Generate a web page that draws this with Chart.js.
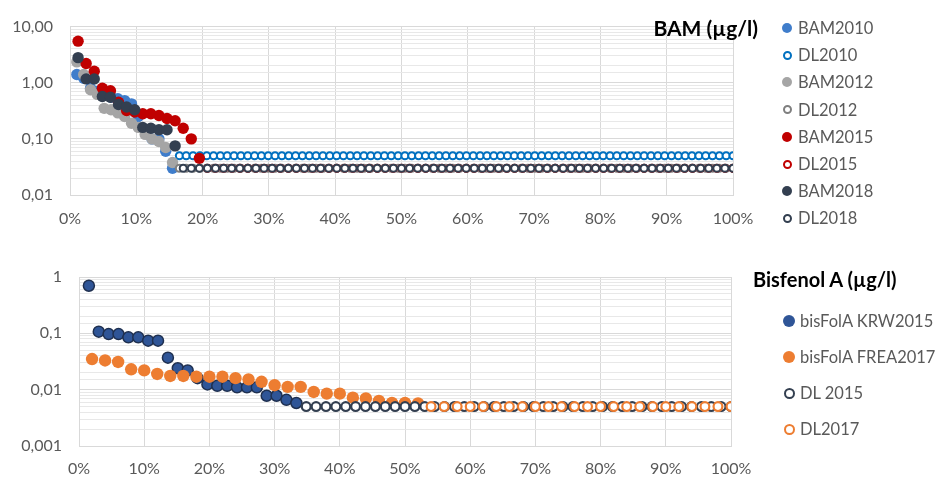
<!DOCTYPE html>
<html>
<head>
<meta charset="utf-8">
<script src="https://cdn.jsdelivr.net/npm/chart.js@4.4.1/dist/chart.umd.min.js"></script>
<style>
  html, body { margin: 0; padding: 0; background: #fff; }
  body { width: 941px; height: 477px; position: relative; overflow: hidden; font-family: Lato, "Open Sans", sans-serif; }
  .box { position: absolute; left: 0; }
  .title { position: absolute; font-weight: bold; font-size: 21px; line-height: 24px; color: #000; white-space: nowrap; }
  .legend { position: absolute; left: 0; top: 0; }
  .item { position: absolute; color: #595959; font-size: 16.5px; line-height: 20px; white-space: nowrap; }
  .dot { position: absolute; border-radius: 50%; box-sizing: border-box; }
</style>
</head>
<body>
<div class="box" style="top:0"><canvas id="bam" width="941" height="238"></canvas></div>
<div class="box" style="top:238px"><canvas id="bpa" width="941" height="239"></canvas></div>
<div class="title" style="right:183px;top:16px">BAM (µg/l)</div>
<div class="title" style="left:753px;top:267px;font-size:20px">Bisfenol A (µg/l)</div>
<div id="legendBam" class="legend"></div>
<div id="legendBpa" class="legend"></div>
<script>
// BAM (µg/l): measured values, sorted high to low; rest of samples are below detection limit
const bam2010 = [1.4, 1.2, 0.8, 0.7, 0.6, 0.55, 0.52, 0.48, 0.42, 0.25, 0.14, 0.1, 0.1, 0.06, 0.03];
const bam2012 = [2.35, 1.4, 0.75, 0.62, 0.35, 0.33, 0.29, 0.25, 0.19, 0.16, 0.12, 0.1, 0.09, 0.07, 0.038];
const bam2015 = [5.5, 2.2, 1.6, 0.8, 0.72, 0.45, 0.32, 0.3, 0.28, 0.28, 0.26, 0.23, 0.21, 0.155, 0.1, 0.045];
const bam2018 = [2.8, 1.17, 1.17, 0.57, 0.55, 0.41, 0.37, 0.33, 0.16, 0.155, 0.145, 0.145, 0.075];
const bamSamples = { 2010: 97, 2012: 97, 2015: 82, 2018: 82 };
const bamDL = { 2010: 0.05, 2012: 0.03, 2015: 0.03, 2018: 0.03 };

// Bisfenol A (µg/l)
const krw2015 = [0.70, 0.107, 0.097, 0.097, 0.085, 0.085, 0.074, 0.074, 0.037, 0.024, 0.022, 0.016,
  0.0124, 0.0117, 0.0117, 0.011, 0.011, 0.011, 0.0078, 0.0078, 0.0066, 0.0058];
const frea2017 = [0.035, 0.033, 0.031, 0.023, 0.022, 0.019, 0.0175, 0.0175, 0.017, 0.017, 0.017, 0.016,
  0.0152, 0.0138, 0.012, 0.0112, 0.0112, 0.0091, 0.0085, 0.0085, 0.0072, 0.0070, 0.0063, 0.0058, 0.0058, 0.0057];
const bpaSamples = { 2015: 66, 2017: 50 };
const bpaDL = { 2015: 0.005, 2017: 0.005 };

const bamTicks = ['0,01', '0,10', '1,00', '10,00'];
const bpaTicks = ['0,001', '0,01', '0,1', '1'];

const FONT = 'Lato, "Open Sans", sans-serif';
const TEXT = '#595959';

// x = cumulative fraction of samples (rank / n)
function measured(values, n) {
  return values.map((v, i) => ({ x: (i + 1) / n, y: v }));
}
function belowDL(nMeasured, n, dl) {
  const pts = [];
  for (let k = nMeasured + 1; k <= n; k++) pts.push({ x: k / n, y: dl });
  return pts;
}

function filled(label, data, color, r, order, border) {
  return {
    label, data, order,
    backgroundColor: color,
    borderColor: border || color,
    borderWidth: border ? 1.5 : 0,
    pointRadius: r,
    legend: { fill: color, stroke: border || color, open: false }
  };
}
function open(label, data, color, r, bw, order) {
  return {
    label, data, order,
    backgroundColor: '#fff',
    borderColor: color,
    borderWidth: bw,
    pointRadius: r,
    legend: { fill: '#fff', stroke: color, open: true }
  };
}

function isMajor(v) {
  const l = Math.log10(v);
  return Math.abs(l - Math.round(l)) < 1e-6;
}

function makeChart(id, datasets, cfg) {
  return new Chart(document.getElementById(id), {
    type: 'scatter',
    data: { datasets },
    options: {
      responsive: false,
      animation: false,
      events: [],
      layout: { padding: { left: 0, right: cfg.right, top: cfg.top, bottom: 0 } },
      plugins: { legend: { display: false }, tooltip: { enabled: false } },
      scales: {
        x: {
          type: 'linear', min: 0, max: 1,
          afterFit: s => { s.height = cfg.xHeight; },
          grid: { color: '#d9d9d9', drawTicks: false },
          border: { color: '#d9d9d9' },
          ticks: {
            stepSize: 0.1, padding: cfg.xPad, color: TEXT, maxRotation: 0, autoSkip: false,
            font: { family: FONT, size: 16 },
            callback: v => Math.round(v * 100) + '%'
          }
        },
        y: {
          type: 'logarithmic', min: cfg.min, max: cfg.max,
          afterFit: s => { s.width = cfg.yWidth; },
          grid: {
            drawTicks: false,
            color: ctx => (ctx.tick && isMajor(ctx.tick.value)) ? '#d9d9d9' : '#e8e8e8'
          },
          border: { color: '#d9d9d9' },
          ticks: {
            autoSkip: false, padding: 17, color: TEXT,
            font: { family: FONT, size: 16 },
            callback: v => {
              if (!isMajor(v)) return '';
              return cfg.labels[Math.round(Math.log10(v / cfg.min))];
            }
          }
        }
      }
    }
  });
}

function drawLegend(id, datasets, x, y0, step, r) {
  const el = document.getElementById(id);
  datasets.forEach((d, i) => {
    const cy = y0 + i * step;
    const dot = document.createElement('div');
    dot.className = 'dot';
    const rr = d.legend.open ? r - 0.5 : r;
    dot.style.cssText = `left:${x - rr}px;top:${cy - rr}px;width:${2 * rr}px;height:${2 * rr}px;` +
      `background:${d.legend.fill};border:${d.legend.open ? 2 : 0}px solid ${d.legend.stroke};`;
    el.appendChild(dot);
    const t = document.createElement('div');
    t.className = 'item';
    t.style.left = (x + 11) + 'px';
    t.style.top = (cy - 10) + 'px';
    t.textContent = d.label;
    el.appendChild(t);
  });
}

// later series on top (lower order = drawn last)
const bamSets = [
  filled('BAM2010', measured(bam2010, bamSamples[2010]), '#3f7dcb', 5.7, 8),
  open('DL2010', belowDL(bam2010.length, bamSamples[2010], bamDL[2010]), '#0070c0', 3.5, 2, 7),
  filled('BAM2012', measured(bam2012, bamSamples[2012]), '#a5a5a5', 5.7, 6),
  open('DL2012', belowDL(bam2012.length, bamSamples[2012], bamDL[2012]), '#7f7f7f', 3.5, 2, 5),
  filled('BAM2015', measured(bam2015, bamSamples[2015]), '#c00000', 5.7, 4),
  open('DL2015', belowDL(bam2015.length, bamSamples[2015], bamDL[2015]), '#c00000', 3.5, 2, 3),
  filled('BAM2018', measured(bam2018, bamSamples[2018]), '#333f50', 5.7, 2),
  open('DL2018', belowDL(bam2018.length, bamSamples[2018], bamDL[2018]), '#333f50', 3.5, 2, 1)
];

const bpaSets = [
  filled('bisFolA KRW2015', measured(krw2015, bpaSamples[2015]), '#2f5597', 5.5, 4, '#1f3050'),
  filled('bisFolA FREA2017', measured(frea2017, bpaSamples[2017]), '#ed7d31', 6.2, 3),
  open('DL 2015', belowDL(krw2015.length, bpaSamples[2015], bpaDL[2015]), '#333f50', 4.4, 2.2, 2),
  open('DL2017', belowDL(frea2017.length, bpaSamples[2017], bpaDL[2017]), '#ed7d31', 4.4, 2.2, 1)
];

makeChart('bam', bamSets, {
  min: 0.01, max: 10, labels: bamTicks,
  top: 25, right: 208, yWidth: 70, xHeight: 43, xPad: 14
});
makeChart('bpa', bpaSets, {
  min: 0.001, max: 1, labels: bpaTicks,
  top: 39, right: 210, yWidth: 79, xHeight: 31, xPad: 13
});

drawLegend('legendBam', bamSets, 787, 28, 27.2, 5);
drawLegend('legendBpa', bpaSets, 789, 321, 36, 6);
</script>
</body>
</html>
